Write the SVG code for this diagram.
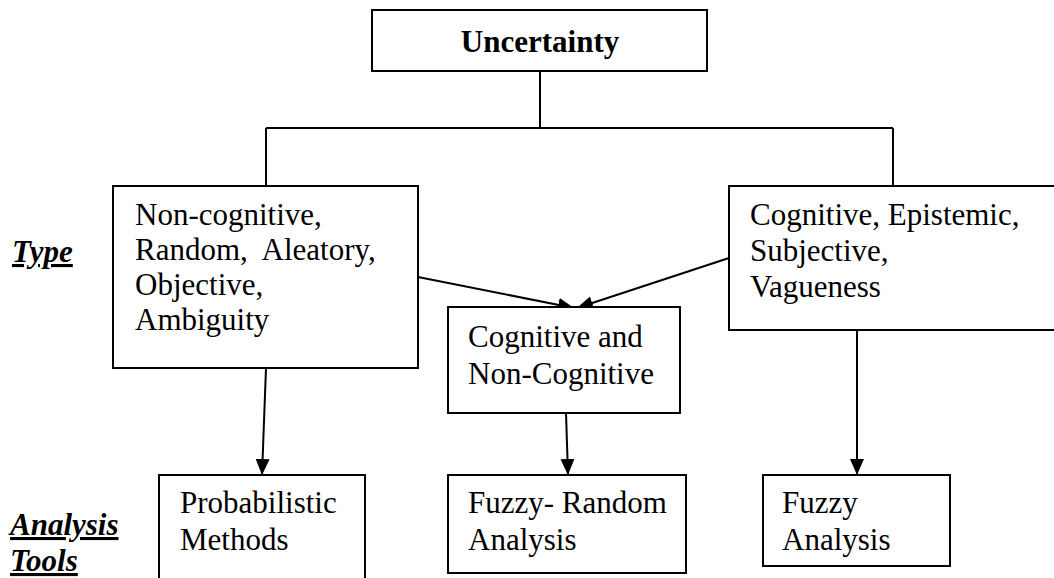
<svg xmlns="http://www.w3.org/2000/svg" width="1054" height="578" viewBox="0 0 1054 578">
<style>
  .box { fill: #fff; stroke: #000; stroke-width: 2; }
  .t { font-family: "Liberation Serif", "Times New Roman", serif; font-size: 31px; fill: #000; }
  .b { font-weight: bold; }
  .lab { font-family: "Liberation Serif", "Times New Roman", serif; font-size: 31px; font-weight: bold; font-style: italic; fill: #000; text-decoration: underline; }
  .c { stroke: #000; stroke-width: 2; fill: none; }
</style>
<defs>
  <marker id="ah" viewBox="0 0 16 14" refX="16" refY="7" markerWidth="16" markerHeight="14" markerUnits="userSpaceOnUse" orient="auto">
    <path d="M0,0 L16,7 L0,14 Z" fill="#000"/>
  </marker>
</defs>
<rect width="1054" height="578" fill="#fff"/>

<g id="labels">
  <text class="lab" x="12" y="262">Type</text>
  <text class="lab" x="10" y="535">Analysis</text>
  <text class="lab" x="10" y="571">Tools</text>
</g>

<g id="connectors">
  <line class="c" x1="540" y1="71" x2="540" y2="128"/>
  <line class="c" x1="266" y1="128" x2="893" y2="128"/>
  <line class="c" x1="266" y1="128" x2="266" y2="186"/>
  <line class="c" x1="893" y1="128" x2="893" y2="186"/>
  <line class="c" x1="418" y1="277" x2="574" y2="308" marker-end="url(#ah)"/>
  <line class="c" x1="729" y1="258" x2="577" y2="308" marker-end="url(#ah)"/>
  <line class="c" x1="266" y1="368" x2="262" y2="475" marker-end="url(#ah)"/>
  <line class="c" x1="566" y1="413" x2="568" y2="475" marker-end="url(#ah)"/>
  <line class="c" x1="857" y1="330" x2="857" y2="475" marker-end="url(#ah)"/>
</g>

<g id="uncertainty">
  <rect class="box" x="372" y="10" width="335" height="61"/>
  <text class="t b" x="540" y="52" text-anchor="middle">Uncertainty</text>
</g>

<g id="noncognitive">
  <rect class="box" x="113" y="186" width="305" height="182"/>
  <text class="t" x="135" y="225">Non-cognitive,</text>
  <text class="t" x="135" y="260" xml:space="preserve">Random,  Aleatory,</text>
  <text class="t" x="135" y="295">Objective,</text>
  <text class="t" x="135" y="330">Ambiguity</text>
</g>

<g id="cognitive">
  <rect class="box" x="729" y="186" width="330" height="144"/>
  <text class="t" x="750" y="225">Cognitive, Epistemic,</text>
  <text class="t" x="750" y="261">Subjective,</text>
  <text class="t" x="750" y="297">Vagueness</text>
</g>

<g id="both">
  <rect class="box" x="448" y="307" width="232" height="106"/>
  <text class="t" x="468" y="347">Cognitive and</text>
  <text class="t" x="468" y="384">Non-Cognitive</text>
</g>

<g id="probabilistic">
  <rect class="box" x="159" y="475" width="206" height="110"/>
  <text class="t" x="180" y="513">Probabilistic</text>
  <text class="t" x="180" y="550">Methods</text>
</g>

<g id="fuzzyrandom">
  <rect class="box" x="448" y="475" width="238" height="98"/>
  <text class="t" x="468" y="513">Fuzzy- Random</text>
  <text class="t" x="468" y="550">Analysis</text>
</g>

<g id="fuzzy">
  <rect class="box" x="763" y="475" width="187" height="91"/>
  <text class="t" x="782" y="513">Fuzzy</text>
  <text class="t" x="782" y="550">Analysis</text>
</g>
</svg>
